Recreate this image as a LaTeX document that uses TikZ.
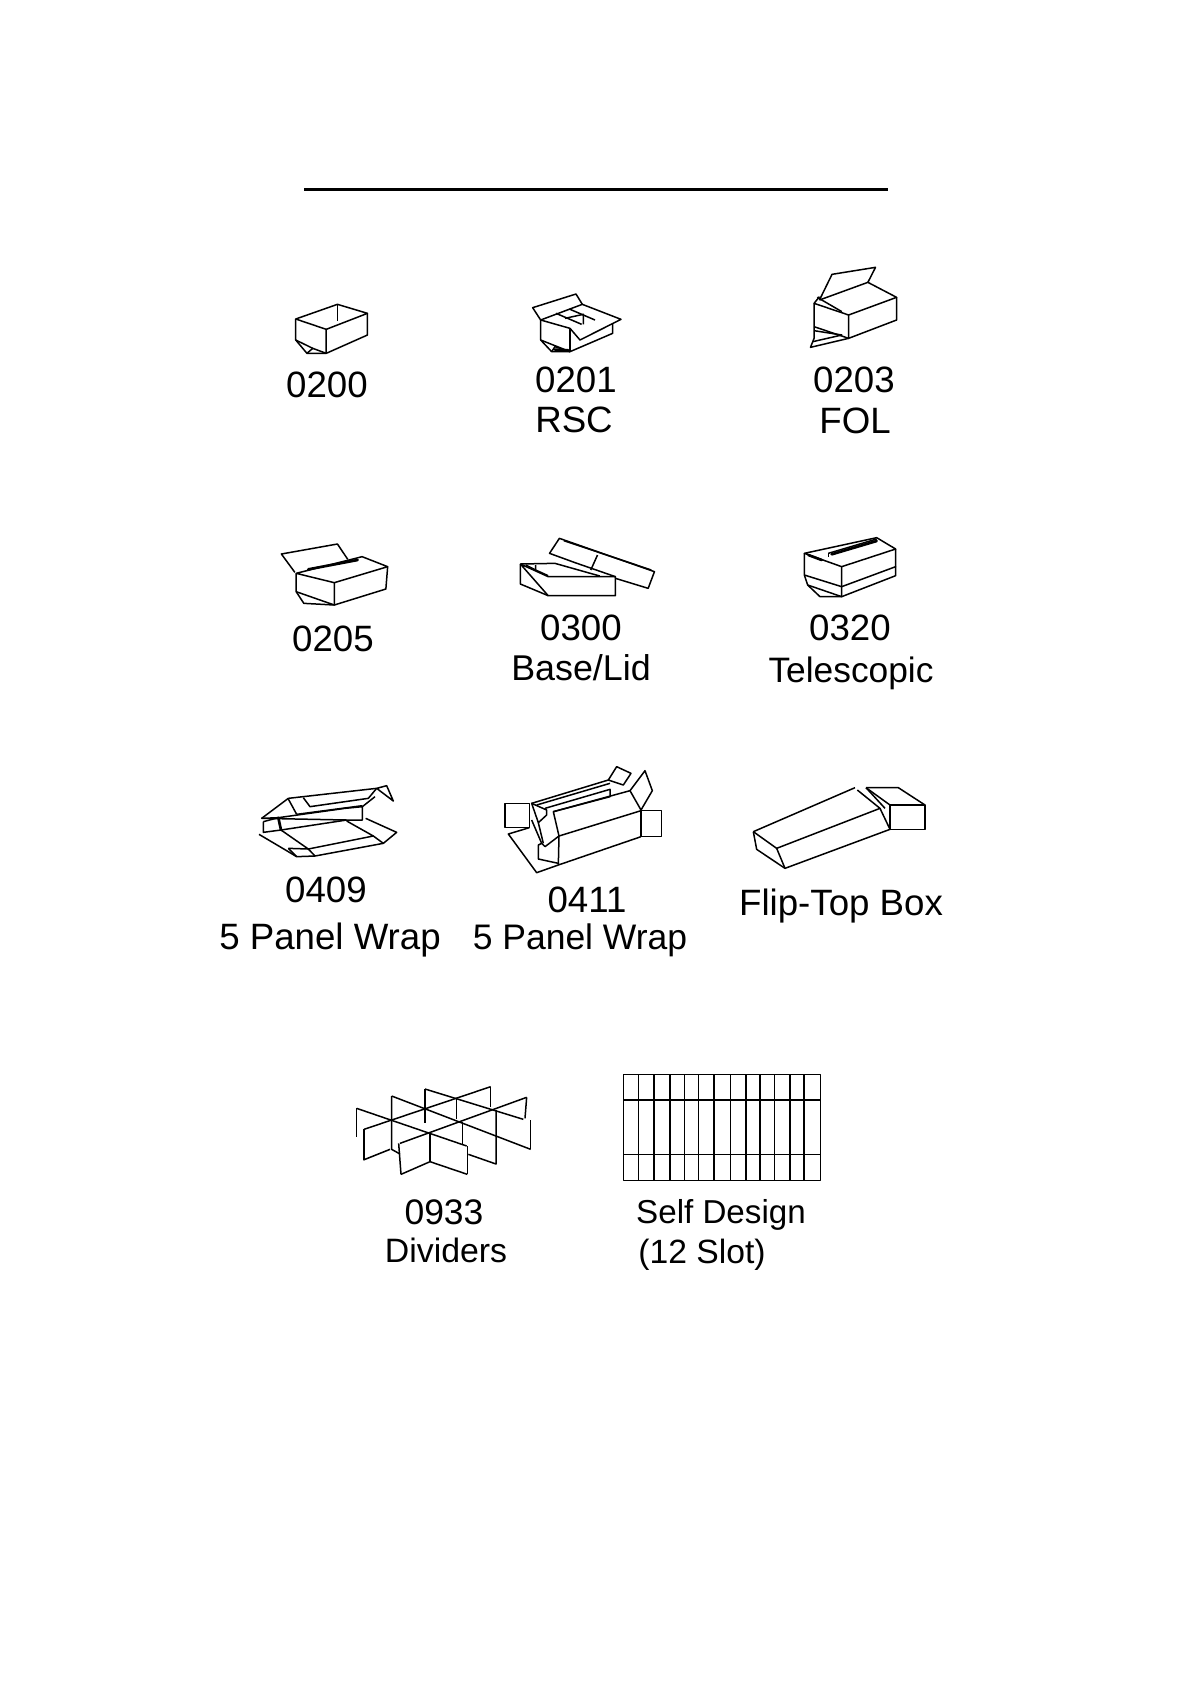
\documentclass[tikz,border=0pt]{standalone}
\usepackage{fontspec}
\usetikzlibrary{positioning}
\newfontfamily\lblfont{Liberation Sans}
\tikzset{
  % card outline
  wire/.style={line width=0.9pt, line join=round, black},
  thickwire/.style={line width=1.6pt, line cap=round, black},
  % captions under the boxes
  lbl/.style={font=\lblfont\fontsize{#1}{30}\selectfont, anchor=base, inner sep=0pt},
  lbl/.default=22,
}

\begin{document}
\begin{tikzpicture}[x=0.6pt, y=-0.6pt]
    \useasboundingbox (0,0) rectangle (1190,1684);

    % Title rule
    \coordinate (ruleL) at (304,189);
    \coordinate (ruleR) at (888,189);
    \draw[line width=1.8pt] (ruleL) -- (ruleR);

    % 0200, 0203
    \begin{scope}[shift={(250,240)}, xscale=0.4484, yscale=1/3]
        \draw[wire] (102,237) -- (195,193) -- (262,220) -- (170,268) -- cycle;
        \draw[wire] (102,237) -- (102,300) -- (127,340) -- (170,340) -- (170,268);
        \draw[wire] (262,220) -- (262,285) -- (170,340);
        \draw[wire] (195,193) -- (195,243);
        \draw[wire] (102,300) -- (140,325) -- (170,340);
        \draw[wire] (127,340) -- (140,325);
        \draw[wire] (1270,180) -- (1298,103) -- (1395,82) -- (1378,127);
        \draw[wire] (1270,180) -- (1378,127) -- (1442,172) -- (1335,225) -- (1258,190) -- (1270,170);
        \draw[wire] (1258,190) -- (1258,295) -- (1250,322) -- (1335,295);
        \draw[wire] (1442,172) -- (1442,240) -- (1335,295) -- (1335,225);
        \draw[wire] (1258,260) -- (1335,295);
        \draw[wire] (1258,272) -- (1320,285) -- (1255,305);
        \draw[wire] (1265,172) -- (1320,215);
    \end{scope}
    % 0201
    \begin{scope}[shift={(520,285)}, scale=1/3]
        \draw[wire] (62,105) -- (38,68) -- (168,27) -- (187,58);
        \draw[wire] (62,105) -- (187,58) -- (303,103) -- (180,165) -- (150,130) -- cycle;
        \draw[wire] (150,130) -- (150,200);
        \draw[wire] (62,105) -- (62,165) -- (95,200) -- (150,200) -- (278,145) -- (278,115);
        \draw[wire] (62,165) -- (150,200);
        \draw[wire] (108,85) -- (185,118);
        \draw[wire] (148,72) -- (225,105);
        \draw[wire] (135,100) -- (190,88) -- (190,118);
        \draw[wire] (95,200) -- (105,185) -- (150,200);
        \draw[thickwire] (105,194) -- (145,196);
    \end{scope}

    % 0205, 0300
    \begin{scope}[shift={(250,510)}, xscale=0.4484, yscale=1/3]
        \draw[wire] (100,187) -- (70,132) -- (195,102) -- (218,148);
        \draw[wire] (103,190) -- (250,140) -- (307,170) -- (188,218) -- cycle;
        \draw[thickwire] (130,178) -- (240,150);
        \draw[wire] (103,190) -- (103,245) -- (120,280) -- (188,285) -- (188,218);
        \draw[wire] (188,285) -- (303,237) -- (307,170);
        \draw[wire] (103,245) -- (188,285);
        \draw[wire] (725,158) -- (668,130) -- (690,85) -- (902,185) -- (888,235) -- (815,205);
        \draw[wire] (700,92) -- (895,180);
        \draw[wire] (775,135) -- (760,180);
        \draw[wire] (603,162) -- (680,160) -- (780,198);
        \draw[wire] (603,162) -- (665,200) -- (815,200) -- (815,257) -- (665,257) -- cycle;
        \draw[wire] (603,162) -- (603,222) -- (665,257);
        \draw[wire] (637,165) -- (637,180) -- (665,197);
        \draw[wire] (615,165) -- (637,180);
        \draw[wire] (725,158) -- (815,200);
    \end{scope}

    % 0320
    \begin{scope}[shift={(795,525)}, scale=1/3]
        \draw[wire] (28,85) -- (245,38) -- (302,72) -- (140,125) -- cycle;
        \draw[wire] (28,85) -- (28,150) -- (38,180) -- (75,215) -- (140,215) -- (140,125);
        \draw[wire] (302,72) -- (302,125) -- (140,185) -- (28,150);
        \draw[wire] (302,125) -- (302,152) -- (140,215) -- (38,180);
        \draw[wire] (100,85) -- (245,42);
        \draw[thickwire] (110,88) -- (245,48);
        \draw[thickwire] (40,90) -- (80,105);
        \draw[wire] (100,95) -- (100,85);
    \end{scope}

    % 0409
    \begin{scope}[shift={(255,775)}, scale=1/3]
        \draw[wire] (20,130) -- (100,70) -- (365,40) -- (395,32) -- (415,78) -- (365,40);
        \draw[wire] (100,72) -- (125,118);
        \draw[wire] (145,68) -- (165,95) -- (340,70) -- (365,40);
        \draw[wire] (125,118) -- (322,92);
        \draw[wire] (20,130) -- (70,128) -- (270,100) -- (322,95) -- (322,135) -- (275,135) -- cycle;
        \draw[wire] (322,95) -- (360,65);
        \draw[thickwire] (70,128) -- (78,165);
        \draw[wire] (78,165) -- (275,135);
        \draw[wire] (25,140) -- (25,172) -- (78,165);
        \draw[wire] (25,140) -- (70,128);
        \draw[wire] (12,178) -- (100,230) -- (125,245) -- (180,243) -- (385,205) -- (425,172) -- (332,130);
        \draw[wire] (78,165) -- (160,222) -- (355,183) -- (275,138);
        \draw[wire] (355,183) -- (385,205);
        \draw[wire] (160,222) -- (180,243);
        \draw[wire] (100,220) -- (125,245);
        \draw[wire] (100,220) -- (160,222);
    \end{scope}

    % 0411
    \begin{scope}[shift={(495,760)}, scale=1/3]
        \draw[wire] (30,130) rectangle (103,203);
        \draw[wire] (103,203) -- (40,222) -- (125,338) -- (190,315);
        \draw[wire] (438,152) rectangle (500,230);
        \draw[wire] (192,228) -- (438,152);
        \draw[wire] (192,228) -- (190,315) -- (438,230);
        \draw[wire] (192,228) -- (175,155) -- (405,92) -- (438,150);
        \draw[wire] (405,92) -- (450,32) -- (472,92) -- (438,150);
        \draw[wire] (110,130) -- (340,60) -- (365,20) -- (408,40) -- (385,75) -- (340,60);
        \draw[wire] (150,145) -- (345,88) -- (345,110) -- (175,155);
        \draw[wire] (125,135) -- (345,70);
        \draw[wire] (110,130) -- (155,150) -- (155,165) -- (130,188) -- cycle;
        \draw[wire] (130,188) -- (145,250);
        \draw[wire] (110,180) -- (140,250) -- (130,255) -- (130,297) -- (190,310);
        \draw[wire] (150,260) -- (192,228);
        \draw[wire] (140,250) -- (150,260);
    \end{scope}

    % Flip-Top Box
    \begin{scope}[shift={(560,750)}, scale=1/3]
        \draw[wire] (580,245) -- (885,113);
        \draw[wire] (580,245) -- (590,298) -- (675,355) -- (990,238);
        \draw[wire] (580,245) -- (650,295) -- (675,355);
        \draw[wire] (650,295) -- (960,175);
        \draw[wire] (892,120) -- (960,175) -- (990,238);
        \draw[wire] (918,113) -- (990,165);
        \draw[wire] (918,113) -- (975,175);
        \draw[wire] (918,113) -- (1015,113) -- (1095,165);
        \draw[wire] (990,165) rectangle (1095,238);
    \end{scope}

    % 0933, Self Design
    \begin{scope}[shift={(340,1060)}, scale=1/3]
        \draw[wire] (50,145) -- (380,258);
        \draw[wire] (155,108) -- (572,268);
        \draw[wire] (255,87) -- (550,178);
        \draw[wire] (72,208) -- (452,80);
        \draw[wire] (180,250) -- (560,112);
        \draw[wire] (70,300) -- (150,268);
        \draw[wire] (183,343) -- (270,305) -- (382,343);
        \draw[wire] (50,145) -- (50,232);
        \draw[wire] (72,208) -- (72,300);
        \draw[wire] (155,108) -- (155,268) -- (180,282);
        \draw[wire] (255,87) -- (255,190);
        \draw[wire] (270,218) -- (270,305);
        \draw[wire] (176,250) -- (183,343);
        \draw[wire] (382,258) -- (382,343);
        \draw[wire] (368,185) -- (368,255);
        \draw[wire] (350,118) -- (350,178);
        \draw[wire] (468,150) -- (468,312) -- (385,283);
        \draw[wire] (452,80) -- (452,140);
        \draw[wire] (560,112) -- (555,175);
        \draw[wire] (572,180) -- (572,268);

        \draw[wire] (850,43) rectangle (1442,361);
        \foreach \xslot in {896,942,990,1034,1076,1122,1172,1218,1260,1304,1350,1392}
            \draw[wire] (\xslot,43) -- (\xslot,361);
        \draw[wire] (850,120) -- (1442,120);
        \draw[wire] (850,284) -- (1442,284);
    \end{scope}

    % Captions
    \node[lbl] (a0200) at (327,397) {0200};
    \node[lbl] (a0201) at (576,392) {0201};
    \node[lbl] (aRSC) at (574,432) {RSC};
    \node[lbl] (a0203) at (854,392) {0203};
    \node[lbl] (aFOL) at (855,433) {FOL};
    \node[lbl] (a0205) at (333,651) {0205};
    \node[lbl] (a0300) at (581,640) {0300};
    \node[lbl=21.5] (aBase) at (581,680) {Base/Lid};
    \node[lbl] (a0320) at (850,640) {0320};
    \node[lbl=21.2] (aTele) at (851,682) {Telescopic};
    \node[lbl] (a0409) at (326,902) {0409};
    \node[lbl] (aWrapA) at (330,949) {5 Panel Wrap};
    \node[lbl] (a0411) at (587,912) {0411};
    \node[lbl=21.3] (aWrapB) at (580,949) {5 Panel Wrap};
    \node[lbl] (aFlip) at (841,915) {Flip-Top Box};
    \node[lbl=21.3] (a0933) at (444,1224) {0933};
    \node[lbl=20.3] (aDiv) at (446,1262) {Dividers};
    \node[lbl=19.9] (aSelf) at (721,1223) {Self Design};
    \node[lbl=20.2] (aSlot) at (702,1263) {(12 Slot)};
\end{tikzpicture}
\end{document}
